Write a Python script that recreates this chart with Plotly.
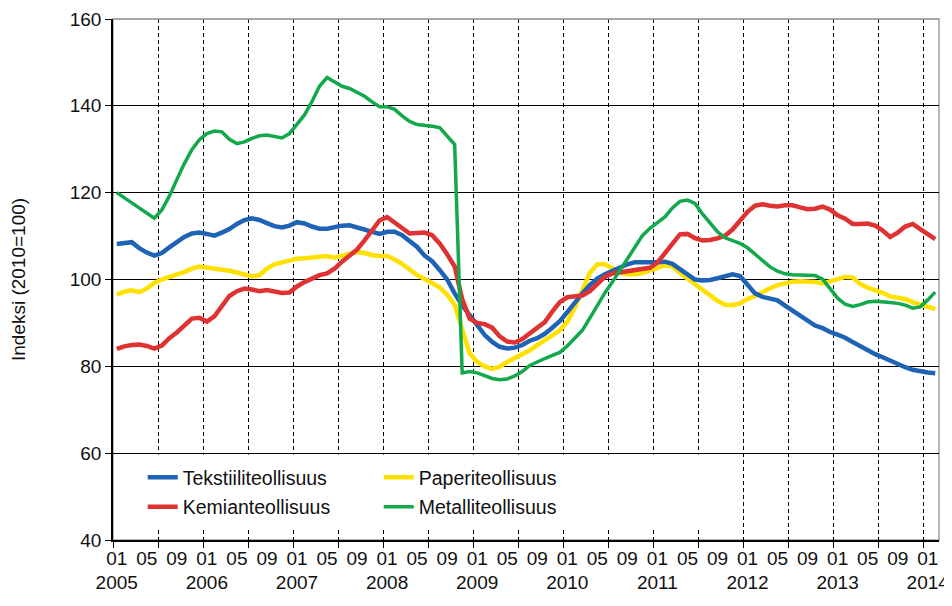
import plotly.graph_objects as go

# Monthly index values 2005-01 ... 2014-02 (2010=100)
tekstiili = [108.2, 108.5, 108.6, 107.2, 106.2, 105.5, 106.1, 107.4, 108.6, 109.8,
             110.6, 110.8, 110.5, 110.1, 110.8, 111.6, 112.8, 113.7, 114.1, 113.7,
             113.0, 112.3, 112.0, 112.4, 113.2, 112.9, 112.2, 111.7, 111.7, 112.1,
             112.4, 112.5, 112.0, 111.3, 110.9, 110.5, 111.0, 111.0, 110.2, 109.0,
             107.5, 105.5, 104.2, 102.2, 100.0, 96.8, 94.0, 91.8, 89.3, 87.2,
             85.6, 84.5, 84.1, 84.3, 84.9, 85.9, 86.5, 87.5, 88.9, 90.4,
             92.5, 94.8, 96.8, 98.7, 100.2, 101.2, 102.0, 102.8, 103.5, 104.0,
             104.1, 104.0, 104.0, 104.1, 103.6, 102.4, 101.0, 100.0, 99.8, 99.9,
             100.3, 100.7, 101.2, 100.8, 98.8, 96.8, 96.0, 95.6, 95.2, 94.0,
             92.9, 91.7, 90.4, 89.4, 88.8, 87.9, 87.3, 86.6, 85.6, 84.6,
             83.7, 82.8, 82.1, 81.3, 80.5, 79.8, 79.2, 78.8, 78.6, 78.4]

paperi = [96.5, 97.2, 97.5, 97.1, 97.9, 99.2, 100.0, 100.7, 101.2, 101.7,
          102.5, 103.0, 102.8, 102.5, 102.4, 102.0, 101.6, 101.1, 100.7, 101.0,
          102.5, 103.5, 104.0, 104.5, 104.8, 104.9, 105.1, 105.3, 105.4, 105.0,
          105.4, 105.9, 106.3, 106.1, 105.6, 105.4, 105.4, 104.6, 103.6, 102.3,
          101.0, 100.1, 99.2, 98.2, 96.5, 94.2, 88.5, 83.0, 81.0, 80.0,
          79.4, 79.9, 81.0, 81.9, 82.7, 83.7, 84.9, 86.0, 87.0, 88.3,
          90.3, 93.5, 97.5, 101.5, 103.5, 103.5, 102.6, 101.6, 101.2, 101.2,
          101.5, 102.0, 102.7, 103.3, 103.0, 101.5, 100.2, 98.7, 97.5, 96.2,
          95.1, 94.2, 94.1, 94.5, 95.5, 96.2, 97.2, 98.0, 98.7, 99.2,
          99.5, 99.6, 99.6, 99.4, 99.1, 99.6, 100.1, 100.6, 100.5, 99.0,
          98.1, 97.6, 96.9, 96.1, 95.8, 95.5, 94.8, 94.3, 93.8, 93.2]

kemian = [84.0, 84.6, 84.9, 85.0, 84.7, 84.1, 84.8, 86.5, 87.8, 89.5,
          91.0, 91.2, 90.3, 91.5, 94.0, 96.2, 97.3, 97.9, 97.7, 97.3,
          97.6, 97.3, 96.9, 97.0, 98.4, 99.4, 100.3, 101.0, 101.4, 102.5,
          104.1, 105.4, 106.9, 109.0, 111.2, 113.6, 114.4, 113.2, 111.8, 110.6,
          110.7, 110.8, 110.2, 108.3, 105.8, 103.0, 95.5, 91.0, 90.0, 89.7,
          88.9, 86.9, 85.7, 85.5, 86.3, 87.7, 89.0, 90.2, 92.6, 94.8,
          95.9, 96.1, 96.3, 97.3, 99.0, 100.6, 101.4, 101.7, 101.9, 102.2,
          102.4, 102.7, 103.9, 106.1, 108.5, 110.4, 110.5, 109.5, 109.0, 109.1,
          109.5, 110.1, 111.5, 113.4, 115.6, 117.0, 117.3, 117.0, 116.8, 117.1,
          117.1, 116.6, 116.2, 116.3, 116.8, 116.1, 114.8, 114.0, 112.8, 112.8,
          112.9, 112.4, 111.3, 109.8, 110.8, 112.2, 112.8, 111.6, 110.4, 109.3]

metalli = [120.0, 118.8, 117.8, 116.6, 115.2, 114.1, 116.0, 119.2, 123.0, 126.7,
           129.9, 132.2, 133.6, 134.2, 134.0, 132.3, 131.3, 131.7, 132.5, 133.1,
           133.3, 132.9, 132.6, 133.6, 135.8, 137.9, 141.0, 144.5, 146.5, 145.6,
           144.5, 144.0, 143.2, 142.2, 140.9, 139.8, 139.8, 139.2, 137.7, 136.4,
           135.7, 135.4, 135.3, 135.0, 133.0, 131.1, 78.5, 78.8, 78.5, 77.8,
           77.2, 76.9, 77.1, 77.8, 78.8, 80.2, 81.1, 81.8, 82.5, 83.2,
           84.7, 86.5, 88.3, 91.1, 94.0, 96.9, 99.4, 102.0, 104.7, 107.5,
           110.1, 111.8, 113.0, 114.4, 116.5, 118.0, 118.3, 117.5, 115.1, 113.0,
           111.0, 109.6, 109.0, 108.3, 107.3, 105.9, 104.5, 102.9, 101.9, 101.3,
           101.1, 101.1, 101.1, 100.9, 100.1, 97.8, 95.7, 94.3, 93.8, 94.2,
           94.8, 95.0, 94.9, 94.7, 94.5, 94.1, 93.4, 93.7, 95.3, 97.1]

tick_labels = ["01<br>2005", "05", "09", "01<br>2006", "05", "09",
               "01<br>2007", "05", "09", "01<br>2008", "05", "09",
               "01<br>2009", "05", "09", "01<br>2010", "05", "09",
               "01<br>2011", "05", "09", "01<br>2012", "05", "09",
               "01<br>2013", "05", "09", "01<br>2014"]

# (name, values, colour, width, legend group, legend rank, draw order)
series = [
    ("Tekstiiliteollisuus", tekstiili, "#1F64B4", 4.5, "legend", 1, 1),
    ("Paperiteollisuus", paperi, "#FFE100", 4.5, "legend", 2, 0),
    ("Kemianteollisuus", kemian, "#DF3232", 4.5, "legend2", 3, 2),
    ("Metalliteollisuus", metalli, "#12A84B", 3.5, "legend2", 4, 3),
]

n = len(tekstiili)
xs = list(range(n))

fig = go.Figure()
for name, vals, color, w, leg, rank, _ in sorted(series, key=lambda s: s[6]):
    fig.add_trace(go.Scatter(x=xs, y=vals, mode="lines", name=name,
                             line=dict(color=color, width=w), legend=leg,
                             legendrank=rank))

font_family = "Arial, Liberation Sans, sans-serif"
# page body has an 8px margin, so the figure is sized 16px smaller than the window
fig.update_layout(
    width=944, height=598,
    margin=dict(l=105, r=13, t=11, b=66),
    paper_bgcolor="white", plot_bgcolor="white",
    font=dict(family=font_family, size=19, color="#111111"),
    showlegend=True,
    legend=dict(orientation="h", x=0.036, xanchor="left", y=0.12, yanchor="middle",
                bgcolor="rgba(0,0,0,0)", entrywidth=191, traceorder="normal",
                font=dict(size=19.5)),
    legend2=dict(orientation="h", x=0.036, xanchor="left", y=0.063, yanchor="middle",
                 bgcolor="rgba(0,0,0,0)", entrywidth=191, traceorder="normal",
                 font=dict(size=19.5)),
    shapes=[
        dict(type="rect", xref="paper", yref="paper", x0=0.002, x1=0.735,
             y0=0.023, y1=0.164, fillcolor="white", line=dict(width=0),
             layer="above"),
        dict(type="rect", xref="paper", yref="paper", x0=0, x1=1, y0=0, y1=1,
             line=dict(color="#A0A0A0", width=1.5), layer="below"),
        dict(type="line", xref="paper", yref="paper", x0=0.001, x1=1, y0=1, y1=1,
             line=dict(color="#A0A0A0", width=1.5), layer="above"),
    ],
)

fig.update_xaxes(
    range=[-0.5, n - 0.5],
    tickmode="array",
    tickvals=xs[::4],
    ticktext=tick_labels,
    tickangle=0,
    ticks="",
    ticklabeloverflow="allow",
    automargin=False,
    showgrid=False,
    showline=True, linecolor="black", linewidth=1.5,
    zeroline=False,
    tickfont=dict(size=19, color="#111111"),
    minor=dict(tick0=-0.5, dtick=6, ticks="outside", ticklen=6, tickcolor="black",
               showgrid=True, gridcolor="black", gridwidth=1, griddash="4px,3px"),
)

fig.update_yaxes(
    range=[40, 160],
    tickmode="array",
    tickvals=[40, 60, 80, 100, 120, 140, 160],
    ticks="outside", ticklen=6, tickcolor="black",
    ticklabeloverflow="allow",
    automargin=False,
    showgrid=True, gridcolor="black", gridwidth=1,
    showline=True, linecolor="black", linewidth=1.5,
    zeroline=False,
    tickfont=dict(size=19, color="#111111"),
    title=dict(text="Indeksi (2010=100)", font=dict(size=19, color="#111111"), standoff=44),
)

fig.write_html("out.html")
